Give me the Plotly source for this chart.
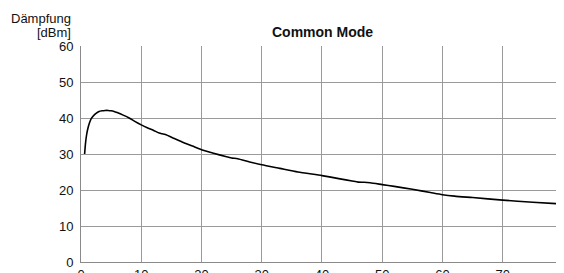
import plotly.graph_objects as go

freq = [0.6, 0.75, 0.9, 1.1, 1.4, 1.7, 2.0, 2.5, 3.0, 3.5, 4.0, 4.5, 5.0, 5.5, 6.0, 7.0, 8.0, 9.0,
        10, 11, 12, 13, 13.5, 14, 15.5, 17, 18.5, 20, 22, 24, 25, 26, 28, 30, 33, 36, 40, 43, 45,
        46, 47, 48, 50, 52, 55, 58, 60, 62, 65, 70, 75, 80]
daempfung = [30.0, 33.0, 35.0, 36.8, 38.6, 39.8, 40.5, 41.3, 41.8, 42.0, 42.1, 42.1, 42.0, 41.8, 41.5,
             40.8, 40.0, 39.0, 38.1, 37.3, 36.6, 35.8, 35.6, 35.4, 34.3, 33.2, 32.2, 31.2, 30.2, 29.3,
             28.9, 28.7, 27.8, 27.0, 26.0, 25.0, 24.0, 23.1, 22.5, 22.2, 22.15, 22.0, 21.5, 21.0, 20.2,
             19.3, 18.7, 18.3, 17.9, 17.2, 16.6, 16.1]

x_ticks = [0, 10, 20, 30, 40, 50, 60, 70, 80]
title_text = "Common Mode"
y_title_lines = ["Dämpfung", "[dBm]"]

fig = go.Figure()
fig.add_trace(go.Scatter(x=freq, y=daempfung, mode="lines",
                         line=dict(color="black", width=1.6, shape="spline", smoothing=0.6),
                         showlegend=False, hoverinfo="skip"))

font = "Liberation Sans, Arial, Helvetica, sans-serif"
fig.update_layout(
    width=556, height=265,
    margin=dict(l=73, r=1, t=38, b=11, autoexpand=False),
    paper_bgcolor="white", plot_bgcolor="white",
    font=dict(family=font, size=13, color="#111"),
    xaxis=dict(range=[0, 80.01], tickmode="array", tickvals=x_ticks,
               ticktext=[str(v) for v in x_ticks],
               showgrid=True, gridcolor="#9a9a9a", gridwidth=1,
               showline=True, linecolor="#8a8a8a", linewidth=1, zeroline=False, ticks="",
               automargin=False, tickfont=dict(size=13), ticklabeloverflow="allow",
               ticklabelstandoff=0),
    yaxis=dict(range=[0, 60], dtick=10, tick0=0, showgrid=True, gridcolor="#9a9a9a", gridwidth=1,
               showline=True, linecolor="#8a8a8a", linewidth=1, zeroline=False, ticks="",
               automargin=False, tickfont=dict(size=13), ticklabelstandoff=4,
               ticklabeloverflow="allow"),
    annotations=[
        dict(text="<b>" + title_text + "</b>", xref="paper", yref="paper", x=0.5, y=1,
             xanchor="center", yanchor="middle", yshift=14, showarrow=False,
             font=dict(size=14, family=font, color="#111")),
        dict(text=y_title_lines[0], xref="paper", yref="paper", x=0, y=1, xanchor="right",
             yanchor="middle", xshift=-8, yshift=28, showarrow=False,
             font=dict(size=13, family=font, color="#111")),
        dict(text=y_title_lines[1], xref="paper", yref="paper", x=0, y=1, xanchor="right",
             yanchor="middle", xshift=-8, yshift=14, showarrow=False,
             font=dict(size=13, family=font, color="#111")),
    ],
)
fig.write_html("out.html")
